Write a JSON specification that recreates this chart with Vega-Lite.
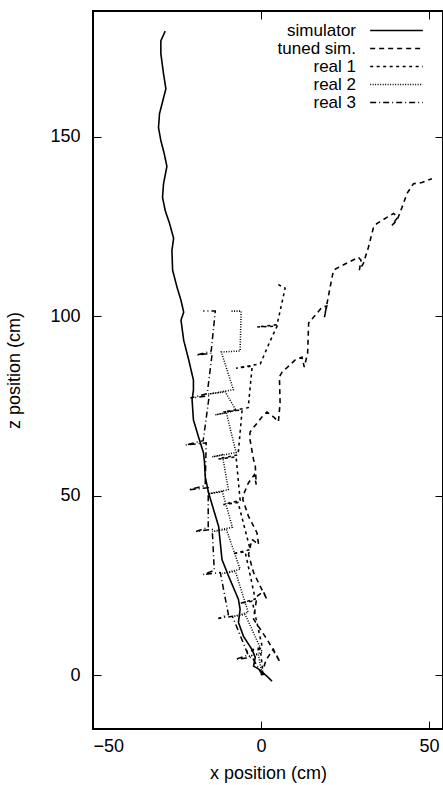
{
  "$schema": "https://vega.github.io/schema/vega-lite/v6.json",
  "width": 350,
  "height": 718,
  "autosize": {"type": "none"},
  "padding": {"left": 93, "top": 11, "right": 0, "bottom": 56},
  "background": "white",
  "config": {
    "font": "Liberation Sans",
    "view": {"stroke": "black", "strokeWidth": 2},
    "axis": {"grid": false, "domain": false, "tickColor": "black", "tickSize": -8, "tickWidth": 1, "labelColor": "black", "labelFontSize": 18, "titleFontSize": 18, "titleFontWeight": "normal", "titleColor": "black", "labelFont": "Liberation Sans", "titleFont": "Liberation Sans"}
  },
  "data": {"values": [
    {"s":"simulator","t":0,"x":3.3,"z":-1.7},{"s":"simulator","t":1,"x":1.8,"z":-0.3},{"s":"simulator","t":2,"x":-0.7,"z":1.7},{"s":"simulator","t":3,"x":-2.2,"z":2.5},{"s":"simulator","t":4,"x":-1.7,"z":5.0},{"s":"simulator","t":5,"x":-2.7,"z":7.2},{"s":"simulator","t":6,"x":-5.2,"z":10.8},{"s":"simulator","t":7,"x":-6.7,"z":14.7},{"s":"simulator","t":8,"x":-6.2,"z":18.3},{"s":"simulator","t":9,"x":-6.7,"z":21.1},{"s":"simulator","t":10,"x":-7.6,"z":23.1},{"s":"simulator","t":11,"x":-9.6,"z":27.5},{"s":"simulator","t":12,"x":-11.6,"z":32.2},{"s":"simulator","t":13,"x":-11.9,"z":35.0},{"s":"simulator","t":14,"x":-12.6,"z":41.4},{"s":"simulator","t":15,"x":-14.1,"z":46.1},{"s":"simulator","t":16,"x":-15.6,"z":50.8},{"s":"simulator","t":17,"x":-16.6,"z":55.3},{"s":"simulator","t":18,"x":-16.8,"z":59.2},{"s":"simulator","t":19,"x":-17.1,"z":61.9},{"s":"simulator","t":20,"x":-18.6,"z":66.4},{"s":"simulator","t":21,"x":-20.1,"z":71.1},{"s":"simulator","t":22,"x":-20.5,"z":76.7},{"s":"simulator","t":23,"x":-20.1,"z":79.4},{"s":"simulator","t":24,"x":-20.1,"z":82.2},{"s":"simulator","t":25,"x":-21.5,"z":87.8},{"s":"simulator","t":26,"x":-23.0,"z":93.3},{"s":"simulator","t":27,"x":-23.8,"z":98.9},{"s":"simulator","t":28,"x":-23.0,"z":101.1},{"s":"simulator","t":29,"x":-23.8,"z":104.4},{"s":"simulator","t":30,"x":-25.0,"z":108.1},{"s":"simulator","t":31,"x":-26.3,"z":112.8},{"s":"simulator","t":32,"x":-26.5,"z":118.3},{"s":"simulator","t":33,"x":-26.0,"z":121.7},{"s":"simulator","t":34,"x":-27.2,"z":125.8},{"s":"simulator","t":35,"x":-28.5,"z":129.4},{"s":"simulator","t":36,"x":-29.3,"z":133.1},{"s":"simulator","t":37,"x":-29.0,"z":136.9},{"s":"simulator","t":38,"x":-28.0,"z":141.7},{"s":"simulator","t":39,"x":-28.8,"z":145.3},{"s":"simulator","t":40,"x":-29.8,"z":148.9},{"s":"simulator","t":41,"x":-30.5,"z":152.5},{"s":"simulator","t":42,"x":-30.2,"z":156.4},{"s":"simulator","t":43,"x":-29.0,"z":160.8},{"s":"simulator","t":44,"x":-28.3,"z":163.3},{"s":"simulator","t":45,"x":-29.0,"z":167.5},{"s":"simulator","t":46,"x":-29.8,"z":173.1},{"s":"simulator","t":47,"x":-29.8,"z":176.7},{"s":"simulator","t":48,"x":-28.5,"z":179.4},

    {"s":"tuned sim.","t":0,"x":0.1,"z":0},{"s":"tuned sim.","t":1,"x":1.6,"z":4.4},{"s":"tuned sim.","t":2,"x":3.7,"z":7.2},{"s":"tuned sim.","t":3,"x":5.7,"z":3.6},{"s":"tuned sim.","t":4,"x":1.8,"z":10},{"s":"tuned sim.","t":5,"x":-2.2,"z":15.6},{"s":"tuned sim.","t":6,"x":-1.2,"z":21.9},{"s":"tuned sim.","t":7,"x":0.7,"z":23.3},{"s":"tuned sim.","t":8,"x":1.8,"z":21.1},{"s":"tuned sim.","t":9,"x":-0.2,"z":24.7},{"s":"tuned sim.","t":10,"x":-2.2,"z":28.6},{"s":"tuned sim.","t":11,"x":-3.7,"z":33.6},{"s":"tuned sim.","t":12,"x":-2.7,"z":37.8},{"s":"tuned sim.","t":13,"x":-0.7,"z":36.4},{"s":"tuned sim.","t":14,"x":-1.2,"z":39.7},{"s":"tuned sim.","t":15,"x":-3.7,"z":44.2},{"s":"tuned sim.","t":16,"x":-5.4,"z":48.9},{"s":"tuned sim.","t":17,"x":-5.2,"z":50.3},{"s":"tuned sim.","t":18,"x":-3.7,"z":53.6},{"s":"tuned sim.","t":19,"x":-2.0,"z":55.8},{"s":"tuned sim.","t":20,"x":-1.4,"z":53.1},{"s":"tuned sim.","t":21,"x":-1.7,"z":58.6},{"s":"tuned sim.","t":22,"x":-2.2,"z":60},{"s":"tuned sim.","t":23,"x":-3.4,"z":66.4},{"s":"tuned sim.","t":24,"x":-3.2,"z":67.8},{"s":"tuned sim.","t":25,"x":0.3,"z":71.9},{"s":"tuned sim.","t":26,"x":1.8,"z":73.3},{"s":"tuned sim.","t":27,"x":3.8,"z":71.9},{"s":"tuned sim.","t":28,"x":5.2,"z":70.6},{"s":"tuned sim.","t":29,"x":5.7,"z":75.8},{"s":"tuned sim.","t":30,"x":5.5,"z":83.1},{"s":"tuned sim.","t":31,"x":6.3,"z":84.4},{"s":"tuned sim.","t":32,"x":10.2,"z":87.8},{"s":"tuned sim.","t":33,"x":12.2,"z":88.6},{"s":"tuned sim.","t":34,"x":12.9,"z":85.8},{"s":"tuned sim.","t":35,"x":13.9,"z":89.7},{"s":"tuned sim.","t":36,"x":14.2,"z":98.1},{"s":"tuned sim.","t":37,"x":16.2,"z":100.3},{"s":"tuned sim.","t":38,"x":18.2,"z":102.5},{"s":"tuned sim.","t":39,"x":19.6,"z":102.8},{"s":"tuned sim.","t":40,"x":18.9,"z":99.7},{"s":"tuned sim.","t":41,"x":20.6,"z":108.1},{"s":"tuned sim.","t":42,"x":21.6,"z":112.8},{"s":"tuned sim.","t":43,"x":23.1,"z":113.6},{"s":"tuned sim.","t":44,"x":26.1,"z":115},{"s":"tuned sim.","t":45,"x":29.0,"z":116.4},{"s":"tuned sim.","t":46,"x":29.8,"z":115.6},{"s":"tuned sim.","t":47,"x":29.3,"z":112.8},{"s":"tuned sim.","t":48,"x":30.5,"z":114.7},{"s":"tuned sim.","t":49,"x":32.0,"z":119.2},{"s":"tuned sim.","t":50,"x":33.5,"z":124.7},{"s":"tuned sim.","t":51,"x":34.5,"z":125.8},{"s":"tuned sim.","t":52,"x":37.5,"z":127.5},{"s":"tuned sim.","t":53,"x":39.5,"z":128.6},{"s":"tuned sim.","t":54,"x":40.7,"z":127.5},{"s":"tuned sim.","t":55,"x":39.0,"z":125.3},{"s":"tuned sim.","t":56,"x":40.5,"z":126.7},{"s":"tuned sim.","t":57,"x":42.0,"z":130.3},{"s":"tuned sim.","t":58,"x":43.5,"z":134.2},{"s":"tuned sim.","t":59,"x":45.4,"z":136.9},{"s":"tuned sim.","t":60,"x":47.9,"z":137.2},{"s":"tuned sim.","t":61,"x":50.9,"z":138.3},

    {"s":"real 1","t":0,"x":0.7,"z":0},{"s":"real 1","t":1,"x":-0.2,"z":7.2},{"s":"real 1","t":2,"x":-4.4,"z":6.6},{"s":"real 1","t":3,"x":0.4,"z":7.8},{"s":"real 1","t":4,"x":-2.6,"z":20.6},{"s":"real 1","t":5,"x":-6.2,"z":20.0},{"s":"real 1","t":6,"x":-1.7,"z":21.2},{"s":"real 1","t":7,"x":-4.7,"z":34.4},{"s":"real 1","t":8,"x":-8.5,"z":33.8},{"s":"real 1","t":9,"x":-3.2,"z":35.0},{"s":"real 1","t":10,"x":-6.8,"z":48.1},{"s":"real 1","t":11,"x":-11.2,"z":47.5},{"s":"real 1","t":12,"x":-6.2,"z":48.7},{"s":"real 1","t":13,"x":-7.4,"z":60.8},{"s":"real 1","t":14,"x":-12.7,"z":60.2},{"s":"real 1","t":15,"x":-6.8,"z":61.4},{"s":"real 1","t":16,"x":-5.6,"z":73.9},{"s":"real 1","t":17,"x":-11.2,"z":73.3},{"s":"real 1","t":18,"x":-3.8,"z":74.5},{"s":"real 1","t":19,"x":-2.6,"z":86.1},{"s":"real 1","t":20,"x":-7.4,"z":85.5},{"s":"real 1","t":21,"x":-0.2,"z":86.7},{"s":"real 1","t":22,"x":2.7,"z":93.0},{"s":"real 1","t":23,"x":4.8,"z":97.2},{"s":"real 1","t":24,"x":-1.1,"z":97.0},{"s":"real 1","t":25,"x":4.8,"z":97.6},{"s":"real 1","t":26,"x":7.2,"z":107.8},{"s":"real 1","t":27,"x":4.9,"z":108.9},

    {"s":"real 2","t":0,"x":0.4,"z":0},{"s":"real 2","t":1,"x":-0.8,"z":5.8},{"s":"real 2","t":2,"x":-3.8,"z":5.2},{"s":"real 2","t":3,"x":0.4,"z":6.4},{"s":"real 2","t":4,"x":-4.7,"z":16.9},{"s":"real 2","t":5,"x":-8.5,"z":16.3},{"s":"real 2","t":6,"x":-3.8,"z":17.5},{"s":"real 2","t":7,"x":-7.6,"z":28.9},{"s":"real 2","t":8,"x":-11.5,"z":28.3},{"s":"real 2","t":9,"x":-6.2,"z":29.5},{"s":"real 2","t":10,"x":-10.3,"z":40.6},{"s":"real 2","t":11,"x":-14.5,"z":40.0},{"s":"real 2","t":12,"x":-8.5,"z":41.2},{"s":"real 2","t":13,"x":-11.5,"z":51.1},{"s":"real 2","t":14,"x":-15.7,"z":50.5},{"s":"real 2","t":15,"x":-9.7,"z":51.7},{"s":"real 2","t":16,"x":-11.5,"z":61.4},{"s":"real 2","t":17,"x":-14.5,"z":60.8},{"s":"real 2","t":18,"x":-7.4,"z":62.0},{"s":"real 2","t":19,"x":-10.3,"z":73.1},{"s":"real 2","t":20,"x":-13.6,"z":72.5},{"s":"real 2","t":21,"x":-7.4,"z":73.7},{"s":"real 2","t":22,"x":-10.6,"z":78.9},{"s":"real 2","t":23,"x":-15.7,"z":78.3},{"s":"real 2","t":24,"x":-8.2,"z":79.5},{"s":"real 2","t":25,"x":-11.8,"z":90.0},{"s":"real 2","t":26,"x":-6.2,"z":90.3},{"s":"real 2","t":27,"x":-5.9,"z":101.4},{"s":"real 2","t":28,"x":-9.1,"z":101.4},

    {"s":"real 3","t":0,"x":0.4,"z":0},{"s":"real 3","t":1,"x":-2.6,"z":5.0},{"s":"real 3","t":2,"x":-7.6,"z":4.4},{"s":"real 3","t":3,"x":-3.8,"z":5.6},{"s":"real 3","t":4,"x":-8.5,"z":16.4},{"s":"real 3","t":5,"x":-12.7,"z":15.8},{"s":"real 3","t":6,"x":-9.7,"z":16.9},{"s":"real 3","t":7,"x":-12.1,"z":28.6},{"s":"real 3","t":8,"x":-17.2,"z":28.0},{"s":"real 3","t":9,"x":-13.9,"z":29.2},{"s":"real 3","t":10,"x":-14.5,"z":40.6},{"s":"real 3","t":11,"x":-19.3,"z":40.0},{"s":"real 3","t":12,"x":-15.7,"z":41.2},{"s":"real 3","t":13,"x":-15.7,"z":52.2},{"s":"real 3","t":14,"x":-21.6,"z":51.6},{"s":"real 3","t":15,"x":-16.6,"z":52.8},{"s":"real 3","t":16,"x":-16.3,"z":64.7},{"s":"real 3","t":17,"x":-22.5,"z":64.1},{"s":"real 3","t":18,"x":-17.2,"z":65.3},{"s":"real 3","t":19,"x":-15.4,"z":77.8},{"s":"real 3","t":20,"x":-21.0,"z":77.2},{"s":"real 3","t":21,"x":-16.0,"z":78.4},{"s":"real 3","t":22,"x":-14.5,"z":89.7},{"s":"real 3","t":23,"x":-19.3,"z":89.1},{"s":"real 3","t":24,"x":-14.8,"z":90.3},{"s":"real 3","t":25,"x":-13.6,"z":101.4},{"s":"real 3","t":26,"x":-17.2,"z":101.4}
  ]},
  "layer": [
    {
      "mark": {"type": "line", "color": "black", "clip": true},
      "encoding": {
        "x": {"field": "x", "type": "quantitative", "scale": {"domain": [-50, 54.2], "nice": false, "zero": false}, "axis": {"orient": "bottom", "values": [-50, 0, 50], "title": "x position (cm)", "labelPadding": 16, "titlePadding": 9}},
        "y": {"field": "z", "type": "quantitative", "scale": {"domain": [-15, 185], "nice": false, "zero": false}, "axis": {"orient": "left", "values": [0, 50, 100, 150], "title": "z position (cm)", "labelPadding": 21, "titlePadding": 26}},
        "order": {"field": "t", "type": "quantitative"},
        "strokeDash": {"field": "s", "type": "nominal", "scale": {"domain": ["simulator", "tuned sim.", "real 1", "real 2", "real 3"], "range": [[1, 0], [5, 4], [3, 3.5], [1, 1.5], [6, 3, 1, 3]]},
          "legend": {"title": null, "orient": "none", "legendX": 294, "legendY": 10, "padding": 0, "rowPadding": 0, "labelFontSize": 17, "labelColor": "black", "labelAlign": "right", "labelOffset": -50, "symbolType": "M-3.1,0H3.1", "symbolSize": 289, "symbolStrokeColor": "black", "symbolFillColor": "transparent", "symbolStrokeWidth": 1.2}},
        "strokeWidth": {"field": "s", "type": "nominal", "scale": {"domain": ["simulator", "tuned sim.", "real 1", "real 2", "real 3"], "range": [1.6, 1.5, 1, 1, 1]}, "legend": null}
      }
    },
    {
      "mark": {"type": "point", "opacity": 0},
      "encoding": {
        "x": {"field": "x", "type": "quantitative", "scale": {"domain": [-50, 54.2], "nice": false, "zero": false}, "axis": {"orient": "top", "values": [-50, 0, 50], "labels": false, "title": null}},
        "y": {"field": "z", "type": "quantitative", "scale": {"domain": [-15, 185], "nice": false, "zero": false}, "axis": {"orient": "right", "values": [0, 50, 100, 150], "labels": false, "title": null}}
      }
    }
  ],
  "resolve": {"axis": {"x": "independent", "y": "independent"}}
}
